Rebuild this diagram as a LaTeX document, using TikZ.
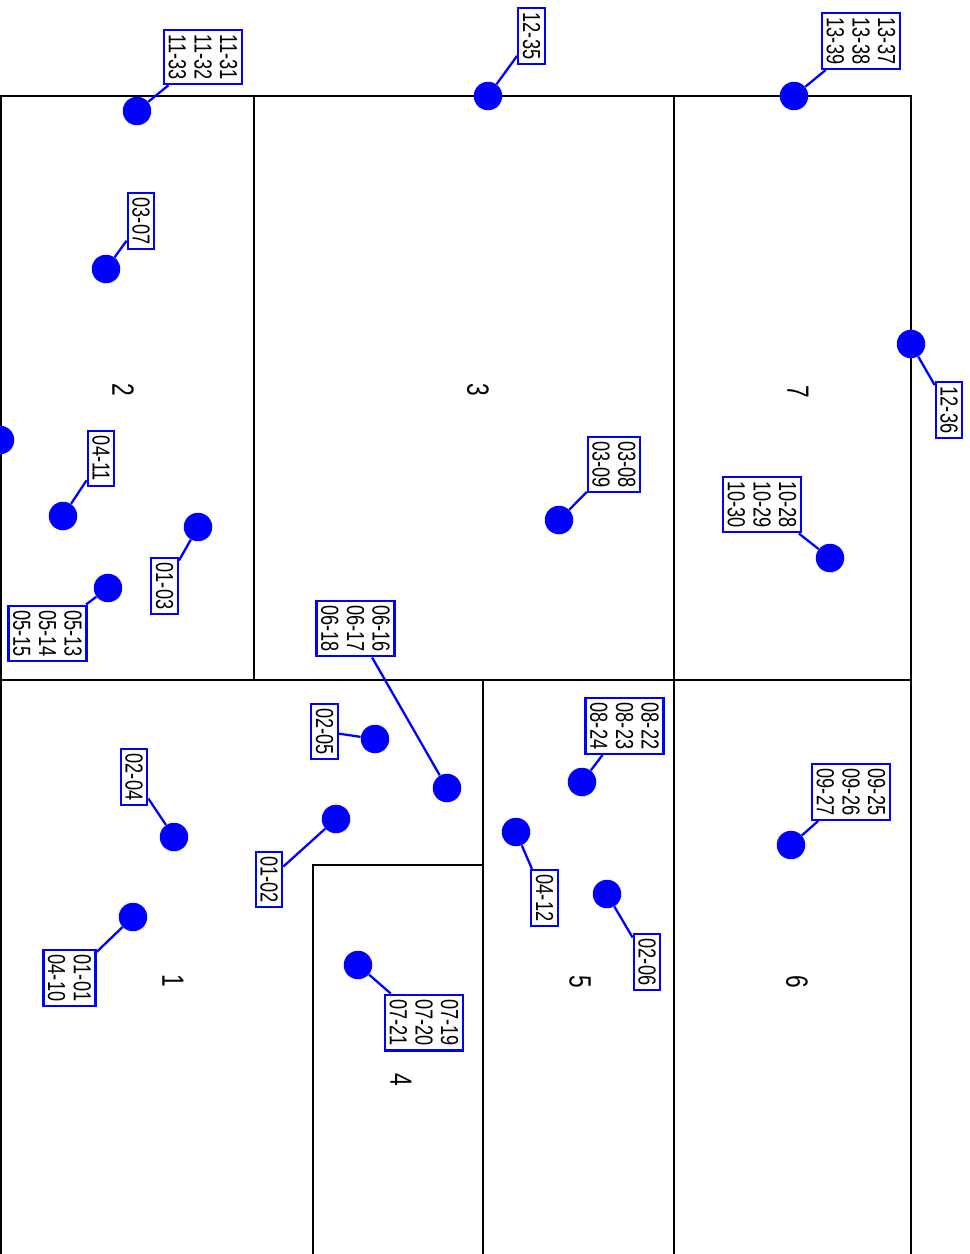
\documentclass[tikz,border=0pt]{standalone}
\usepackage{fontspec}
\setmainfont{Liberation Sans}[FakeStretch=0.74]
\usepackage{tikz}
\usepackage{xcolor}
\definecolor{PinBlue}{HTML}{0000FF}
\definecolor{WallBlack}{HTML}{000000}
\tikzset{
    % Wall lines of the plan
    wall/.style={
        draw=WallBlack,
        line width=1.4pt,
        line cap=rect
    },
    % Room number
    roomlabel/.style={
        rotate=-90,
        font=\fontsize{17.5}{20}\selectfont
    },
    % Pin dot
    pindot/.style={
        circle,
        fill=PinBlue,
        inner sep=0pt,
        minimum size=0.57cm
    },
    % Tag box with the codes
    tagbox/.style={
        draw=PinBlue,
        fill=white,
        line width=1.3pt,
        rotate=-90,
        inner sep=2.6pt,
        align=left,
        font=\fontsize{14}{14.6}\selectfont
    },
    % Line from pin to tag
    pinline/.style={
        draw=PinBlue,
        line width=1.3pt
    }
}
\begin{document}
\begin{tikzpicture}[x=0.02cm, y=-0.02cm]
        \useasboundingbox (0,0) rectangle (970,1254);

        % Walls
        \draw[wall] (1,1264) -- (1,96) -- (911,96) -- (911,1264);
        \draw[wall] (254,96) -- (254,680);
        \draw[wall] (674,96) -- (674,1264);
        \draw[wall] (1,680) -- (911,680);
        \draw[wall] (483,680) -- (483,1264);
        \draw[wall] (313,1264) -- (313,865) -- (483,865);

        % Rooms
        \node[roomlabel] (r1) at (173,981) {1};
        \node[roomlabel] (r2) at (123,390) {2};
        \node[roomlabel] (r3) at (478,390) {3};
        \node[roomlabel] (r4) at (401,1080) {4};
        \node[roomlabel] (r5) at (580,982) {5};
        \node[roomlabel] (r6) at (797,982) {6};
        \node[roomlabel] (r7) at (798,392) {7};

        % Pins
        \node[pindot] (pt1) at (794,96) {};
        \node[pindot] (pt2) at (488,96) {};
        \node[pindot] (pt3) at (137,111) {};
        \node[pindot] (pt4) at (911,344) {};
        \node[pindot] (pt5) at (106,269) {};
        \node[pindot] (pt6) at (0,440) {};
        \node[pindot] (pt7) at (63,516) {};
        \node[pindot] (pt8) at (198,527) {};
        \node[pindot] (pt9) at (108,588) {};
        \node[pindot] (pt10) at (559,520) {};
        \node[pindot] (pt11) at (830,558) {};
        \node[pindot] (pt12) at (447,788) {};
        \node[pindot] (pt13) at (375,739) {};
        \node[pindot] (pt14) at (336,819) {};
        \node[pindot] (pt15) at (174,837) {};
        \node[pindot] (pt16) at (133,917) {};
        \node[pindot] (pt17) at (358,965) {};
        \node[pindot] (pt18) at (582,782) {};
        \node[pindot] (pt19) at (516,832) {};
        \node[pindot] (pt20) at (607,894) {};
        \node[pindot] (pt21) at (791,845) {};

        % Tags
        \node[tagbox] (tg1) at (861,41) {13-37\\13-38\\13-39};
        \node[tagbox] (tg2) at (531.5,36) {12-35};
        \node[tagbox] (tg3) at (203,57) {11-31\\11-32\\11-33};
        \node[tagbox] (tg4) at (949,410) {12-36};
        \node[tagbox] (tg5) at (141,221) {03-07};
        \node[tagbox] (tg7) at (101,458.5) {04-11};
        \node[tagbox] (tg8) at (164.5,586) {01-03};
        \node[tagbox] (tg9) at (47.5,633.5) {05-13\\05-14\\05-15};
        \node[tagbox] (tg10) at (614,464.5) {03-08\\03-09};
        \node[tagbox] (tg11) at (762,504.5) {10-28\\10-29\\10-30};
        \node[tagbox] (tg12) at (355.5,628.5) {06-16\\06-17\\06-18};
        \node[tagbox] (tg13) at (324.5,731.5) {02-05};
        \node[tagbox] (tg14) at (269,879.5) {01-02};
        \node[tagbox] (tg15) at (134,777) {02-04};
        \node[tagbox] (tg16) at (69.5,978) {01-01\\04-10};
        \node[tagbox] (tg17) at (424,1022.5) {07-19\\07-20\\07-21};
        \node[tagbox] (tg18) at (624.5,726) {08-22\\08-23\\08-24};
        \node[tagbox] (tg19) at (544.5,898) {04-12};
        \node[tagbox] (tg20) at (647,962) {02-06};
        \node[tagbox] (tg21) at (851,792) {09-25\\09-26\\09-27};

        % Pin lines
        \draw[pinline] (pt1) -- (tg1);
        \draw[pinline] (pt2) -- (tg2);
        \draw[pinline] (pt3) -- (tg3);
        \draw[pinline] (pt4) -- (tg4);
        \draw[pinline] (pt5) -- (tg5);
        \draw[pinline] (pt7) -- (tg7);
        \draw[pinline] (pt8) -- (tg8);
        \draw[pinline] (pt9) -- (tg9);
        \draw[pinline] (pt10) -- (tg10);
        \draw[pinline] (pt11) -- (tg11);
        \draw[pinline] (pt12) -- (tg12);
        \draw[pinline] (pt13) -- (tg13);
        \draw[pinline] (pt14) -- (tg14);
        \draw[pinline] (pt15) -- (tg15);
        \draw[pinline] (pt16) -- (tg16);
        \draw[pinline] (pt17) -- (tg17);
        \draw[pinline] (pt18) -- (tg18);
        \draw[pinline] (pt19) -- (tg19);
        \draw[pinline] (pt20) -- (tg20);
        \draw[pinline] (pt21) -- (tg21);
    \end{tikzpicture}
\end{document}
